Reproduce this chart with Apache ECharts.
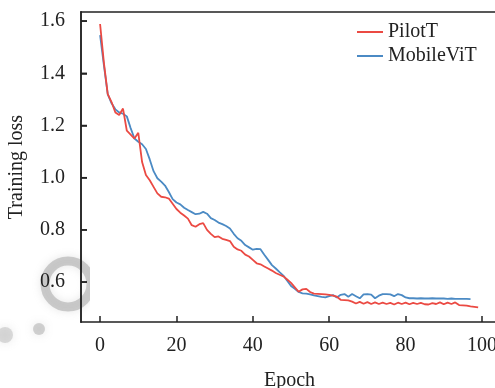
<!DOCTYPE html>
<html><head><meta charset="utf-8">
<script src="https://cdn.jsdelivr.net/npm/echarts@6/dist/echarts.min.js"></script>
<style>html,body{margin:0;padding:0;background:#fff}#c{width:495px;height:388px}</style>
</head><body><div id="c"></div>
<script>
const seriesNames = ['PilotT', 'MobileViT'];
const xTicks = [0, 20, 40, 60, 80, 100];
const yTicks = [0.6, 0.8, 1.0, 1.2, 1.4, 1.6];
const pilotT = [1.589,1.44,1.32,1.29,1.25,1.24,1.265,1.18,1.165,1.15,
 1.172,1.06,1.01,0.99,0.965,0.94,0.927,0.925,0.92,0.90,
 0.88,0.866,0.855,0.843,0.818,0.812,0.822,0.826,0.80,0.785,
 0.772,0.775,0.766,0.762,0.757,0.735,0.725,0.72,0.705,0.698,
 0.685,0.672,0.668,0.66,0.652,0.644,0.635,0.628,0.622,0.61,
 0.597,0.58,0.563,0.572,0.574,0.562,0.556,0.555,0.554,0.553,
 0.551,0.548,0.544,0.532,0.531,0.530,0.525,0.518,0.524,0.517,
 0.523,0.516,0.522,0.516,0.521,0.516,0.52,0.514,0.521,0.516,
 0.521,0.515,0.52,0.516,0.52,0.515,0.514,0.519,0.516,0.522,
 0.515,0.521,0.516,0.522,0.512,0.511,0.51,0.507,0.505,0.503];
const mobileViT = [1.546,1.43,1.32,1.285,1.262,1.25,1.245,1.235,1.19,1.15,
 1.138,1.128,1.11,1.07,1.025,0.998,0.985,0.97,0.945,0.918,
 0.905,0.898,0.885,0.876,0.868,0.86,0.862,0.869,0.862,0.845,
 0.838,0.828,0.822,0.815,0.805,0.785,0.768,0.758,0.742,0.733,
 0.724,0.727,0.726,0.705,0.685,0.665,0.652,0.638,0.625,0.605,
 0.585,0.574,0.562,0.557,0.556,0.553,0.549,0.546,0.543,0.541,
 0.546,0.55,0.541,0.551,0.554,0.544,0.554,0.546,0.538,0.553,
 0.554,0.552,0.538,0.548,0.554,0.554,0.553,0.546,0.554,0.55,
 0.541,0.538,0.538,0.537,0.538,0.537,0.537,0.538,0.537,0.537,
 0.537,0.536,0.537,0.536,0.536,0.536,0.536,0.535];
const colors = ['#eb4a43', '#4b8ac4'];
const FONT = 'Liberation Serif';
const X_MIN = -5, X_MAX = 104.2, Y_MIN = 0.447, Y_MAX = 1.635;

function pairs(arr){ return arr.map((v,i)=>[i,v]); }
function mkLine(extra){ return Object.assign({show:true, lineStyle:{color:'#222', width:1.5}}, extra||{}); }

const chart = echarts.init(document.getElementById('c'), null, {renderer:'canvas'});
const watermark = [
  {type:'circle', z:-10, shape:{cx:68, cy:284, r:23}, style:{fill:'none', stroke:'rgba(150,150,150,0.45)', lineWidth:9, shadowBlur:8, shadowColor:'rgba(150,150,150,0.5)'}},
  {type:'circle', z:-10, shape:{cx:39, cy:329, r:6}, style:{fill:'rgba(160,160,160,0.45)', shadowBlur:10, shadowColor:'rgba(150,150,150,0.5)'}},
  {type:'circle', z:-10, shape:{cx:5, cy:335, r:8}, style:{fill:'rgba(170,170,170,0.4)', shadowBlur:10, shadowColor:'rgba(150,150,150,0.5)'}},
  {type:'rect', z:-5, shape:{x:90, y:250, width:140, height:62}, style:{fill:'#fff'}}
];
chart.setOption({
  animation:false,
  textStyle:{fontFamily:FONT},
  grid:{left:81, right:-3, top:12, bottom:66, containLabel:false, outerBoundsMode:'none'},
  graphic:watermark,
  legend:{
    data:seriesNames, orient:'vertical', left:352, top:17, itemGap:4,
    icon:'rect', itemWidth:26, itemHeight:2,
    textStyle:{fontFamily:FONT, fontSize:20, color:'#222', lineHeight:20}
  },
  xAxis:[{
    type:'value', min:X_MIN, max:X_MAX,
    name:'Epoch', nameLocation:'middle', nameGap:49,
    nameTextStyle:{fontFamily:FONT, fontSize:20, color:'#222'},
    axisLine:mkLine({onZero:false}),
    axisTick:{show:true, inside:true, length:6, customValues:xTicks, lineStyle:{color:'#222', width:1.5}},
    axisLabel:{customValues:xTicks, margin:14, fontFamily:FONT, fontSize:20, color:'#222'},
    splitLine:{show:false}
  },{
    type:'value', position:'top', min:X_MIN, max:X_MAX,
    axisLine:mkLine({onZero:false}), axisTick:{show:false}, axisLabel:{show:false}, splitLine:{show:false}
  }],
  yAxis:{
    type:'value', position:'left', min:Y_MIN, max:Y_MAX,
    name:'Training loss', nameLocation:'middle', nameGap:54, nameRotate:90,
    nameTextStyle:{fontFamily:FONT, fontSize:20, color:'#222'},
    axisLine:mkLine({onZero:false}),
    axisTick:{show:true, inside:true, length:6, customValues:yTicks, lineStyle:{color:'#222', width:1.5}},
    axisLabel:{customValues:yTicks, margin:16, fontFamily:FONT, fontSize:20, color:'#222', formatter:v=>v.toFixed(1)},
    splitLine:{show:false}
  },
  series:[
    {name:seriesNames[0], type:'line', data:pairs(pilotT), showSymbol:false, symbol:'none', color:colors[0], lineStyle:{width:1.8, color:colors[0]}, z:3},
    {name:seriesNames[1], type:'line', data:pairs(mobileViT), showSymbol:false, symbol:'none', color:colors[1], lineStyle:{width:1.8, color:colors[1]}, z:2}
  ]
});

// Left frame line + inward ticks on a top layer, positioned from the grid rect and the y scale
let gx = 81, gTop = 12, gBot = 322;
try {
  const rect = chart.getModel().getComponent('grid', 0).coordinateSystem.getRect();
  if (rect && isFinite(rect.x)) { gx = rect.x; gTop = rect.y; gBot = rect.y + rect.height; }
} catch (e) {}
const axisEls = [{type:'line', zlevel:1, z:100, shape:{x1:gx, y1:gBot + 0.75, x2:gx, y2:gTop - 0.75}, style:{stroke:'#222', lineWidth:1.5}}];
yTicks.forEach(v => {
  let py = chart.convertToPixel({yAxisIndex:0}, v);
  if (!isFinite(py)) py = gBot - (v - Y_MIN) / (Y_MAX - Y_MIN) * (gBot - gTop);
  axisEls.push({type:'line', zlevel:1, z:100, shape:{x1:gx, y1:py, x2:gx + 6, y2:py}, style:{stroke:'#222', lineWidth:1.5}});
});
chart.setOption({graphic:watermark.concat(axisEls)});
</script></body></html>
